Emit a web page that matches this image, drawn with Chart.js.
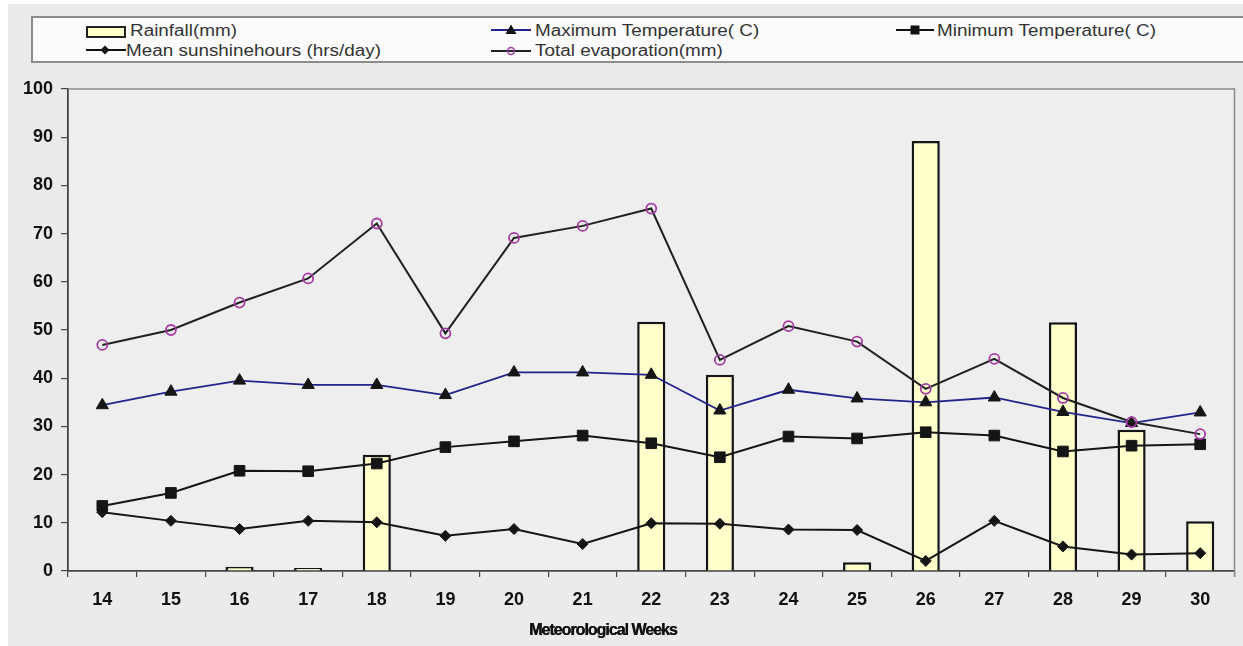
<!DOCTYPE html>
<html>
<head>
<meta charset="utf-8">
<script src="https://cdn.jsdelivr.net/npm/chart.js@4.4.1/dist/chart.umd.min.js"></script>
<style>
  html, body { margin: 0; padding: 0; background: #ffffff; }
  #page { position: relative; width: 1243px; height: 646px; overflow: hidden; }
  #backdrop { position: absolute; left: 8px; top: 4px; right: 0; bottom: 0; background: #ebebeb; }
  #chart { position: absolute; left: 0; top: 0; }
  #legend { position: absolute; left: 31px; top: 16px; width: 1240px; height: 43px;
            border: 2px solid #8c8c8c; background: #fbfbfb; }
  .lg-mark { position: absolute; }
  .lg-text { position: absolute; font-family: "Liberation Sans", Arial, sans-serif; font-size: 16px;
             line-height: 16px; color: #333333; white-space: nowrap;
             transform: scaleX(1.18); transform-origin: left center; }
  #xtitle { position: absolute; left: 529px; top: 621px; font-family: "Liberation Sans", Arial, sans-serif;
            font-weight: bold; font-size: 16px; letter-spacing: -1px; color: #111; white-space: nowrap;
            text-shadow: 0.4px 0 0 #111; }
</style>
</head>
<body>
<div id="page">
  <div id="backdrop"></div>
  <canvas id="chart" width="1243" height="646"></canvas>
  <div id="legend"></div>
  <div id="xtitle"></div>
</div>
<script>
// Meteorological weeks and weekly weather observations
const weeks = ['14', '15', '16', '17', '18', '19', '20', '21', '22', '23', '24', '25', '26', '27', '28', '29', '30'];
const rainfall = [0, 0, 0.9, 0.6, 24.1, 0, 0, 0, 51.7, 40.7, 0, 1.8, 89.2, 0, 51.6, 29.3, 10.3];
const maxTemp = [34.4, 37.2, 39.5, 38.6, 38.6, 36.5, 41.2, 41.2, 40.7, 33.3, 37.6, 35.8, 35.0, 36.0, 33.0, 30.7, 32.9];
const minTemp = [13.5, 16.2, 20.8, 20.7, 22.3, 25.7, 26.9, 28.1, 26.5, 23.6, 27.9, 27.5, 28.8, 28.1, 24.8, 26.0, 26.3];
const sunshine = [12.2, 10.4, 8.7, 10.4, 10.1, 7.3, 8.7, 5.6, 9.9, 9.8, 8.6, 8.5, 2.1, 10.4, 5.1, 3.4, 3.7];
const evaporation = [46.9, 50.0, 55.7, 60.7, 72.1, 49.3, 69.1, 71.6, 75.2, 43.8, 50.8, 47.6, 37.8, 44.0, 35.9, 30.9, 28.4];
const yTicks = [0, 10, 20, 30, 40, 50, 60, 70, 80, 90, 100];

const seriesNames = {
  rain: 'Rainfall(mm)',
  max: 'Maximum Temperature( C)',
  min: 'Minimum Temperature( C)',
  sun: 'Mean sunshinehours (hrs/day)',
  evap: 'Total evaporation(mm)'
};
const xAxisTitle = 'Meteorological Weeks';

const RAIN_FILL = '#ffffcc';
const DARK = '#151515';
const NAVY = '#23238c';
const PURPLE = '#a43ca4';

// Plot area fill plus the light frame on its top and right sides
const plotFrame = {
  id: 'plotFrame',
  beforeDraw(chart) {
    const { ctx, chartArea: a } = chart;
    ctx.save();
    ctx.fillStyle = '#eeeeee';
    ctx.fillRect(a.left, a.top, a.right - a.left, a.bottom - a.top);
    ctx.restore();
  },
  afterDraw(chart) {
    const { ctx, chartArea: a } = chart;
    ctx.save();
    ctx.strokeStyle = '#8a8a8a';
    ctx.lineWidth = 1.5;
    ctx.beginPath();
    ctx.moveTo(a.left, a.top);
    ctx.lineTo(a.right, a.top);
    ctx.lineTo(a.right, a.bottom + 6);
    ctx.stroke();
    ctx.restore();
  }
};

const tickFont = { family: 'Liberation Sans', weight: 'bold', size: 18 };

new Chart(document.getElementById('chart'), {
  type: 'bar',
  data: {
    labels: weeks,
    datasets: [
      {
        type: 'line', label: seriesNames.max, data: maxTemp, order: 2,
        borderColor: NAVY, borderWidth: 1.8,
        pointStyle: 'triangle', pointRadius: 7, pointBackgroundColor: DARK, pointBorderColor: DARK, pointBorderWidth: 1
      },
      {
        type: 'line', label: seriesNames.min, data: minTemp, order: 3,
        borderColor: DARK, borderWidth: 2,
        pointStyle: 'rect', pointRadius: 7.5, pointBackgroundColor: DARK, pointBorderColor: DARK, pointBorderWidth: 1
      },
      {
        type: 'line', label: seriesNames.sun, data: sunshine, order: 4,
        borderColor: DARK, borderWidth: 2,
        pointStyle: 'rectRot', pointRadius: 5.5, pointBackgroundColor: DARK, pointBorderColor: DARK, pointBorderWidth: 1
      },
      {
        type: 'line', label: seriesNames.evap, data: evaporation, order: 1,
        borderColor: '#202020', borderWidth: 2,
        pointStyle: 'circle', pointRadius: 5, pointBackgroundColor: 'rgba(0,0,0,0)', pointBorderColor: PURPLE, pointBorderWidth: 1.8
      },
      {
        type: 'bar', label: seriesNames.rain, data: rainfall, order: 10,
        backgroundColor: RAIN_FILL, borderColor: DARK, borderWidth: 2.5,
        barPercentage: 0.41, categoryPercentage: 1
      }
    ]
  },
  options: {
    responsive: false,
    animation: false,
    layout: { padding: { left: 0, top: 89, right: 8, bottom: 0 } },
    plugins: { legend: { display: false }, tooltip: { enabled: false } },
    scales: {
      x: {
        offset: true,
        afterFit(scale) { scale.height = 75; },
        grid: { offset: true, drawOnChartArea: false, tickLength: 6, color: '#444444', lineWidth: 1.2 },
        border: { color: '#444444', width: 1.8 },
        ticks: { color: '#111111', padding: 12, font: tickFont }
      },
      y: {
        min: 0, max: 100,
        afterFit(scale) { scale.width = 68; },
        afterBuildTicks(scale) { scale.ticks = yTicks.map(v => ({ value: v })); },
        grid: { drawOnChartArea: false, tickLength: 7, color: '#444444', lineWidth: 1.2 },
        border: { color: '#444444', width: 1.8 },
        ticks: { color: '#111111', padding: 8, font: tickFont }
      }
    }
  },
  plugins: [plotFrame]
});

document.getElementById('xtitle').textContent = xAxisTitle;

// Legend: two rows of entries inside a framed box
const legend = document.getElementById('legend');
const boxLeft = 33, boxTop = 18;
function addMark(x, y, w, h, svg) {
  const d = document.createElement('div');
  d.className = 'lg-mark';
  d.style.left = (x - boxLeft) + 'px';
  d.style.top = (y - boxTop) + 'px';
  d.innerHTML = '<svg width="' + w + '" height="' + h + '" xmlns="http://www.w3.org/2000/svg">' + svg + '</svg>';
  legend.appendChild(d);
}
function addText(x, y, text) {
  const s = document.createElement('div');
  s.className = 'lg-text';
  s.style.left = (x - boxLeft) + 'px';
  s.style.top = (y - boxTop) + 'px';
  s.textContent = text;
  legend.appendChild(s);
}
// row 1
addMark(86, 24, 40, 12, '<rect x="1" y="1" width="38" height="10" fill="' + RAIN_FILL + '" stroke="#222" stroke-width="2"/>');
addText(130, 23, seriesNames.rain);
addMark(491, 23, 40, 14, '<line x1="0" y1="7" x2="40" y2="7" stroke="' + NAVY + '" stroke-width="1.8"/><polygon points="20,1.5 25.5,11 14.5,11" fill="#111"/>');
addText(535, 23, seriesNames.max);
addMark(896, 23, 38, 14, '<line x1="0" y1="7" x2="38" y2="7" stroke="#111" stroke-width="2"/><rect x="14.5" y="2.5" width="9" height="9" fill="#111"/>');
addText(937, 23, seriesNames.min);
// row 2
addMark(86, 43, 40, 14, '<line x1="0" y1="7" x2="40" y2="7" stroke="#111" stroke-width="2"/><polygon points="19,2.5 23.5,7 19,11.5 14.5,7" fill="#111"/>');
addText(126, 43, seriesNames.sun);
addMark(491, 44, 40, 14, '<line x1="0" y1="7" x2="40" y2="7" stroke="#222" stroke-width="1.8"/><circle cx="20" cy="7" r="3.4" fill="none" stroke="' + PURPLE + '" stroke-width="1.5"/>');
addText(535, 43, seriesNames.evap);
</script>
</body>
</html>
